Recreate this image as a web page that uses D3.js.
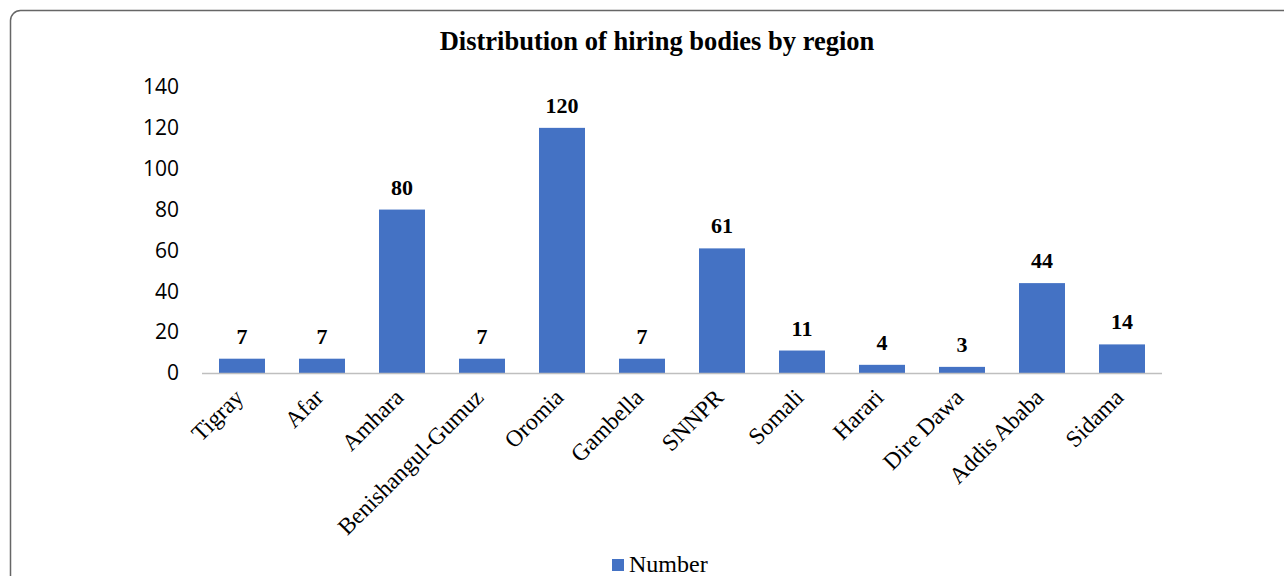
<html lang="en">
<head>
<script src="https://cdnjs.cloudflare.com/ajax/libs/d3/7.7.0/d3.min.js"></script>
<style>
html, body {
  margin: 0;
  background: #fff;
}
svg {
  display: block;
}
.serif {
  font-family: 'Liberation Serif', 'Times New Roman', serif;
}
.ytick text {
  font-family: 'Open Sans', 'Liberation Sans', sans-serif;
}
</style>
</head>
<body>
  <svg width="1284" height="576"></svg>
</body>
<script>
const regions = ['Tigray', 'Afar', 'Amhara', 'Benishangul-Gumuz', 'Oromia', 'Gambella',
  'SNNPR', 'Somali', 'Harari', 'Dire Dawa', 'Addis Ababa', 'Sidama'];
const counts = [7, 7, 80, 7, 120, 7, 61, 11, 4, 3, 44, 14];
const yTicks = [0, 20, 40, 60, 80, 100, 120, 140];
const seriesName = 'Number';
const chartTitle = 'Distribution of hiring bodies by region';

const svg = d3.select('svg');
const barColor = '#4472C4';

// outer chart frame
svg.append('rect')
  .attr('x', 10.5)
  .attr('y', 10.5)
  .attr('width', 1300)
  .attr('height', 600)
  .attr('rx', 10)
  .attr('fill', 'none')
  .attr('stroke', '#666')
  .attr('stroke-width', 1.5);

svg.append('text')
  .classed('serif', true)
  .attr('x', 657)
  .attr('y', 50)
  .attr('text-anchor', 'middle')
  .style('font-size', '26.5px')
  .style('font-weight', 'bold')
  .text(chartTitle);

const x = d3.scaleBand()
  .domain(regions)
  .range([202, 1162])
  .paddingInner(0.425)
  .paddingOuter(0.2125);

const y = d3.scaleLinear()
  .domain([0, 140])
  .range([373, 87]);

// y labels (no axis line)
const yAxis = svg.append('g')
  .classed('ytick', true)
  .attr('transform', 'translate(179, 0)')
  .call(d3.axisLeft(y).tickValues(yTicks).tickSize(0).tickPadding(0));
yAxis.select('.domain').remove();
yAxis.selectAll('text')
  .style('font-size', '21px')
  .attr('fill', '#000');

svg.selectAll('.bar')
  .data(counts)
  .enter()
  .append('rect')
  .classed('bar', true)
  .attr('x', (d, i) => x(regions[i]))
  .attr('y', d => y(d))
  .attr('width', x.bandwidth())
  .attr('height', d => y(0) - y(d))
  .attr('fill', barColor);

svg.selectAll('.val')
  .data(counts)
  .enter()
  .append('text')
  .classed('val serif', true)
  .attr('x', (d, i) => x(regions[i]) + x.bandwidth() / 2)
  .attr('y', d => y(d) - 15)
  .attr('text-anchor', 'middle')
  .style('font-size', '22px')
  .style('font-weight', 'bold')
  .text(d => d);

// x axis line
svg.append('line')
  .attr('x1', 202)
  .attr('x2', 1162)
  .attr('y1', y(0) + 0.5)
  .attr('y2', y(0) + 0.5)
  .attr('stroke', '#bfbfbf')
  .attr('stroke-width', 1.5);

svg.selectAll('.cat')
  .data(regions)
  .enter()
  .append('text')
  .classed('cat serif', true)
  .attr('transform', d => `translate(${x(d) + x.bandwidth() / 2 - 3}, 393) rotate(-45)`)
  .attr('text-anchor', 'end')
  .attr('dy', '0.35em')
  .style('font-size', '23.5px')
  .text(d => d);

// legend
const legend = svg.append('g').attr('transform', 'translate(612, 559)');
legend.append('rect')
  .attr('width', 12)
  .attr('height', 12)
  .attr('fill', barColor);
legend.append('text')
  .classed('serif', true)
  .attr('x', 17)
  .attr('y', 13)
  .style('font-size', '24px')
  .text(seriesName);
</script>
</html>
